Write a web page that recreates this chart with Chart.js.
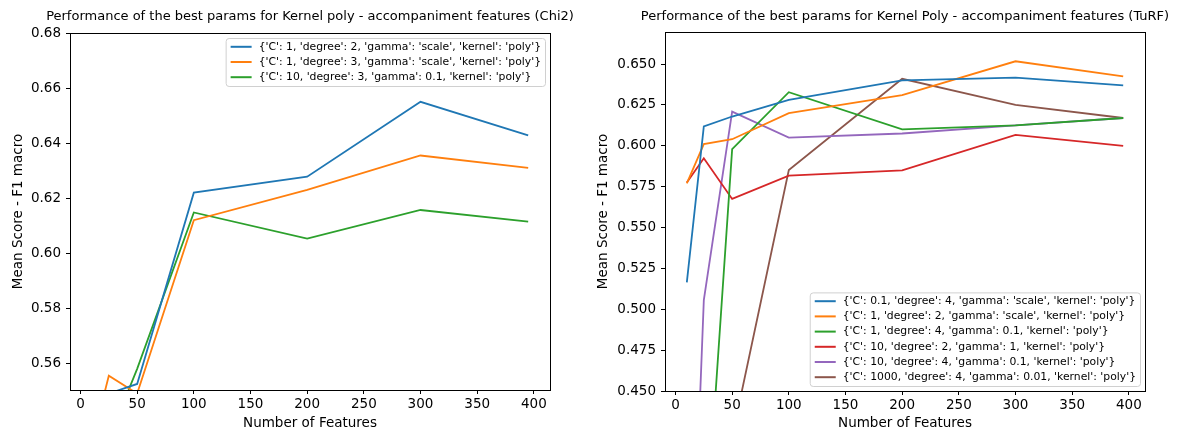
<!DOCTYPE html>
<html>
<head>
<meta charset="utf-8">
<script src="https://cdn.jsdelivr.net/npm/chart.js@4.4.0/dist/chart.umd.min.js"></script>
<style>
  html, body { margin: 0; padding: 0; background: #fff; }
  #wrap { position: relative; width: 1186px; height: 433px; }
  .panel { position: absolute; top: 0; width: 593px; height: 433px; }
  #left { left: 0; }
  #right { left: 593px; }
</style>
</head>
<body>
<div id="wrap">
  <div class="panel" id="left"><canvas id="chi2Chart" width="593" height="433"></canvas></div>
  <div class="panel" id="right"><canvas id="turfChart" width="593" height="433"></canvas></div>
</div>
<script>
"use strict";

const FONT = "'DejaVu Sans', 'Liberation Sans', sans-serif";

// ----------------------------
// Data
// ----------------------------
const features = [10, 25, 50, 100, 200, 300, 395];
const xTicks = [0, 50, 100, 150, 200, 250, 300, 350, 400];

// Chi2 panel
const chi2Labels = [
  "{'C': 1, 'degree': 2, 'gamma': 'scale', 'kernel': 'poly'}",
  "{'C': 1, 'degree': 3, 'gamma': 'scale', 'kernel': 'poly'}",
  "{'C': 10, 'degree': 3, 'gamma': 0.1, 'kernel': 'poly'}"
];
const chi2Blue = [0.530, 0.549, 0.5525, 0.622, 0.6278, 0.655, 0.6428];
const chi2Orange = [0.531, 0.5555, 0.549, 0.612, 0.623, 0.6355, 0.631];
const chi2Green = [0.520, 0.5325, 0.558, 0.6148, 0.6053, 0.6157, 0.6115];
const chi2YTicks = [0.56, 0.58, 0.60, 0.62, 0.64, 0.66, 0.68];

// TuRF panel
const turfLabels = [
  "{'C': 0.1, 'degree': 4, 'gamma': 'scale', 'kernel': 'poly'}",
  "{'C': 1, 'degree': 2, 'gamma': 'scale', 'kernel': 'poly'}",
  "{'C': 1, 'degree': 4, 'gamma': 0.1, 'kernel': 'poly'}",
  "{'C': 10, 'degree': 2, 'gamma': 1, 'kernel': 'poly'}",
  "{'C': 10, 'degree': 4, 'gamma': 0.1, 'kernel': 'poly'}",
  "{'C': 1000, 'degree': 4, 'gamma': 0.01, 'kernel': 'poly'}"
];
const turfBlue = [0.5164, 0.6118, 0.6179, 0.6281, 0.640, 0.6417, 0.637];
const turfOrange = [0.577, 0.601, 0.604, 0.620, 0.631, 0.6517, 0.6425];
const turfGreen = [0.300, 0.343, 0.5979, 0.6328, 0.610, 0.6125, 0.617];
const turfRed = [0.5775, 0.5924, 0.5675, 0.5817, 0.585, 0.6067, 0.600];
const turfPurple = [0.237, 0.5056, 0.6209, 0.605, 0.6075, 0.6125, 0.617];
const turfBrown = [0.294, 0.330, 0.422, 0.5852, 0.641, 0.625, 0.617];
const turfYTicks = [0.450, 0.475, 0.500, 0.525, 0.550, 0.575, 0.600, 0.625, 0.650];

const colors = ["#1f77b4", "#ff7f0e", "#2ca02c", "#d62728", "#9467bd", "#8c564b"];

// ----------------------------
// Plugins
// ----------------------------
const framePlugin = {
  id: "frame",
  afterDraw(chart) {
    const { ctx, chartArea: a } = chart;
    ctx.save();
    ctx.strokeStyle = "#000";
    ctx.lineWidth = 1;
    ctx.strokeRect(Math.round(a.left) + 0.5, Math.round(a.top) + 0.5,
      Math.round(a.right - a.left), Math.round(a.bottom - a.top));
    ctx.restore();
  }
};

const titlePlugin = {
  id: "axTitle",
  afterDraw(chart, args, opts) {
    const { ctx, chartArea: a } = chart;
    ctx.save();
    ctx.fillStyle = "#000";
    ctx.font = `${opts.size}px ${FONT}`;
    ctx.textAlign = "center";
    ctx.textBaseline = "middle";
    ctx.fillText(opts.text, (a.left + a.right) / 2, opts.y);
    ctx.restore();
  }
};

const boxLegendPlugin = {
  id: "boxLegend",
  afterDraw(chart, args, opts) {
    const { ctx, chartArea: a } = chart;
    const ds = chart.data.datasets;
    ctx.save();
    ctx.font = `${opts.size}px ${FONT}`;
    const textW = Math.max(...ds.map(d => ctx.measureText(d.label).width));
    const w = textW + 37;
    const h = (ds.length - 1) * opts.rowH + 2 * opts.pad;
    const right = a.right - 5;
    const left = right - w;
    const top = opts.corner === "top" ? a.top + 5 : a.bottom - 5 - h;

    ctx.beginPath();
    ctx.roundRect(left + 0.5, top + 0.5, w, h, 3);
    ctx.fillStyle = "rgba(255,255,255,0.8)";
    ctx.fill();
    ctx.strokeStyle = "#d0d0d0";
    ctx.lineWidth = 1;
    ctx.stroke();

    ds.forEach((d, i) => {
      const y = top + opts.pad + i * opts.rowH;
      ctx.strokeStyle = d.borderColor;
      ctx.lineWidth = 2;
      ctx.beginPath();
      ctx.moveTo(left + 5, y);
      ctx.lineTo(left + 26, y);
      ctx.stroke();
      ctx.fillStyle = "#000";
      ctx.textAlign = "left";
      ctx.textBaseline = "middle";
      ctx.fillText(d.label, left + 33, y);
    });
    ctx.restore();
  }
};

// ----------------------------
// Chart builder
// ----------------------------
function makeChart(canvasId, cfg) {
  const datasets = cfg.series.map((vals, i) => ({
    label: cfg.labels[i],
    data: features.map((x, k) => ({ x: x, y: vals[k] })),
    borderColor: colors[i],
    backgroundColor: colors[i],
    borderWidth: 1.8,
    pointRadius: 0,
    tension: 0,
    fill: false,
    clip: 0
  }));

  return new Chart(document.getElementById(canvasId), {
    type: "line",
    data: { datasets },
    options: {
      responsive: false,
      animation: false,
      events: [],
      layout: { padding: { left: 0, right: cfg.padRight, top: cfg.padTop, bottom: 0 } },
      plugins: {
        legend: { display: false },
        tooltip: { enabled: false },
        axTitle: { text: cfg.title, size: 13, y: 17 },
        boxLegend: { size: 10.8, rowH: 15.2, pad: 8.8, corner: cfg.legendCorner }
      },
      scales: {
        x: {
          type: "linear",
          min: -9.25,
          max: 414.25,
          afterBuildTicks: s => { s.ticks = xTicks.map(v => ({ value: v })); },
          afterFit: s => { s.height = cfg.xHeight; },
          border: { display: false },
          grid: { display: true, drawOnChartArea: false, drawTicks: true, tickLength: 4, tickColor: "#000", lineWidth: 1 },
          ticks: { color: "#000", font: { family: FONT, size: 13.5 }, padding: 2, maxRotation: 0, autoSkip: false },
          title: { display: true, text: "Number of Features", color: "#000", font: { family: FONT, size: 13.5 }, padding: { top: 0, bottom: 1 } }
        },
        y: {
          type: "linear",
          min: cfg.yMin,
          max: cfg.yMax,
          afterBuildTicks: s => { s.ticks = cfg.yTicks.map(v => ({ value: v })); },
          afterFit: s => { s.width = cfg.yWidth; },
          border: { display: false },
          grid: { display: true, drawOnChartArea: false, drawTicks: true, tickLength: 4, tickColor: "#000", lineWidth: 1 },
          ticks: { color: "#000", font: { family: FONT, size: 13.5 }, padding: 5, callback: v => v.toFixed(cfg.decimals) },
          title: { display: true, text: "Mean Score - F1 macro", color: "#000", font: { family: FONT, size: 13.5 }, padding: { top: cfg.yTitlePad, bottom: 0 } }
        }
      }
    },
    plugins: [framePlugin, titlePlugin, boxLegendPlugin]
  });
}

// ----------------------------
// Init
// ----------------------------
makeChart("chi2Chart", {
  title: "Performance of the best params for Kernel poly - accompaniment features (Chi2)",
  labels: chi2Labels,
  series: [chi2Blue, chi2Orange, chi2Green],
  yTicks: chi2YTicks,
  yMin: 0.5503, yMax: 0.68, decimals: 2,
  padRight: 43, padTop: 33, xHeight: 43, yWidth: 70, yTitlePad: 10,
  legendCorner: "top"
});

makeChart("turfChart", {
  title: "Performance of the best params for Kernel Poly - accompaniment features (TuRF)",
  labels: turfLabels,
  series: [turfBlue, turfOrange, turfGreen, turfRed, turfPurple, turfBrown],
  yTicks: turfYTicks,
  yMin: 0.45, yMax: 0.6696, decimals: 3,
  padRight: 41, padTop: 32, xHeight: 42, yWidth: 72, yTitlePad: 2,
  legendCorner: "bottom"
});
</script>
</body>
</html>
